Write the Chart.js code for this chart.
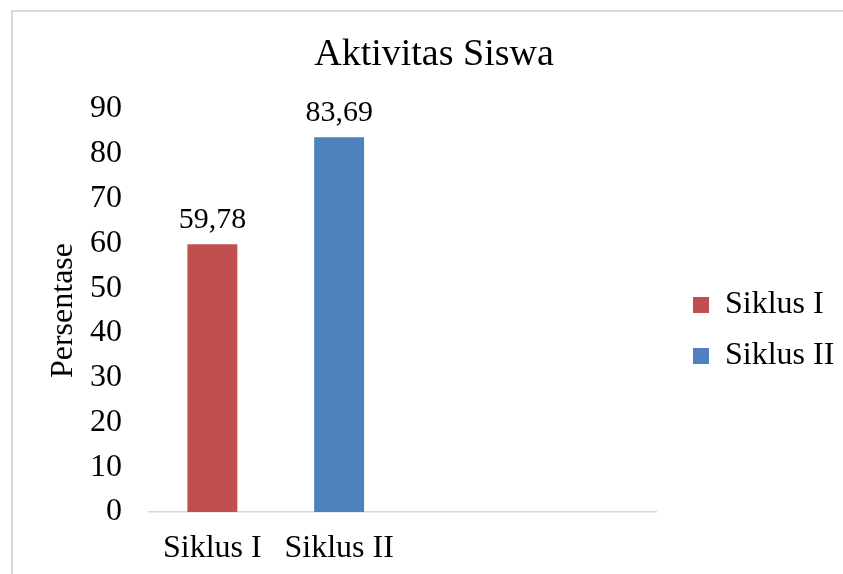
<!DOCTYPE html>
<html>
<head>
<meta charset="utf-8">
<script src="https://cdn.jsdelivr.net/npm/chart.js@4"></script>
<style>
  html, body { margin: 0; padding: 0; background: #fff; overflow: hidden; }
  #frame { position: absolute; left: 11px; top: 10px; width: 2000px; height: 2000px; border-left: 2px solid #d9d9d9; border-top: 2px solid #d9d9d9; }
  #chart { position: absolute; left: 0; top: 0; }
</style>
</head>
<body>
<div id="frame"></div>
<canvas id="chart" width="843" height="574"></canvas>
<script>
const categories = ['Siklus I', 'Siklus II', '', '']
const seriesNames = ['Siklus I', 'Siklus II']
const siklus1 = [59.78, null, null, null]
const siklus2 = [null, 83.69, null, null]
const seriesColors = ['#C0504D', '#4F81BD']
const yMin = 0
const yMax = 90
const yStep = 10

const serif = 'Liberation Serif'
Chart.defaults.color = '#000'
Chart.defaults.font.family = serif

// value labels above the bars, placed from the bar elements
const valueLabels = {
  id: 'valueLabels',
  afterDatasetsDraw(chart) {
    const ctx = chart.ctx
    ctx.save()
    ctx.font = `30px "${serif}"`
    ctx.fillStyle = '#000'
    ctx.textAlign = 'center'
    ctx.textBaseline = 'middle'
    chart.data.datasets.forEach((ds, i) => {
      chart.getDatasetMeta(i).data.forEach((bar, j) => {
        const v = ds.data[j]
        if (v == null) return
        ctx.fillText(v.toFixed(2).replace('.', ','), bar.x, bar.y - 24)
      })
    })
    ctx.restore()
  }
}

const data = {
  labels: categories,
  datasets: [
    { label: seriesNames[0], data: siklus1, backgroundColor: seriesColors[0], skipNull: true },
    { label: seriesNames[1], data: siklus2, backgroundColor: seriesColors[1], skipNull: true }
  ]
}

const config = {
  type: 'bar',
  data: data,
  options: {
    responsive: false,
    animation: false,
    devicePixelRatio: 1,
    categoryPercentage: 1,
    barPercentage: 0.394,
    layout: { padding: { left: 25, right: 0, top: 12, bottom: 0 } },
    scales: {
      x: {
        grid: { display: false, drawTicks: false },
        border: { display: true, color: '#d9d9d9', width: 1.5 },
        ticks: { font: { size: 32 }, padding: 17, maxRotation: 0, autoSkip: false },
        afterFit: (s) => { s.height = 62 }
      },
      y: {
        min: yMin,
        max: yMax,
        grid: { display: false, drawTicks: false },
        border: { display: false },
        ticks: { stepSize: yStep, font: { size: 32 }, padding: 27 },
        title: { display: true, text: 'Persentase', font: { size: 32 }, padding: { top: 19.8, bottom: 0 } },
        afterFit: (s) => { s.width = 124 }
      },
      // empty spacer between plot and legend
      gap: {
        position: 'right',
        display: true,
        grid: { display: false, drawTicks: false },
        border: { display: false },
        ticks: { display: false },
        afterFit: (s) => { s.width = 18 }
      }
    },
    plugins: {
      title: {
        display: true,
        text: 'Aktivitas Siswa',
        font: { size: 38, weight: 'normal' },
        color: '#000',
        padding: { top: 20.2, bottom: 31.2 }
      },
      legend: {
        position: 'right',
        fullSize: false,
        maxWidth: 169,
        title: { display: true, text: ' ', font: { size: 10 }, padding: { top: 14, bottom: 14 } },
        labels: { boxWidth: 16, boxHeight: 16, padding: 19, font: { size: 32 }, color: '#000' }
      },
      tooltip: { enabled: false }
    }
  },
  plugins: [valueLabels]
}

let chart = new Chart(document.getElementById('chart').getContext('2d'), config)
</script>
</body>
</html>
